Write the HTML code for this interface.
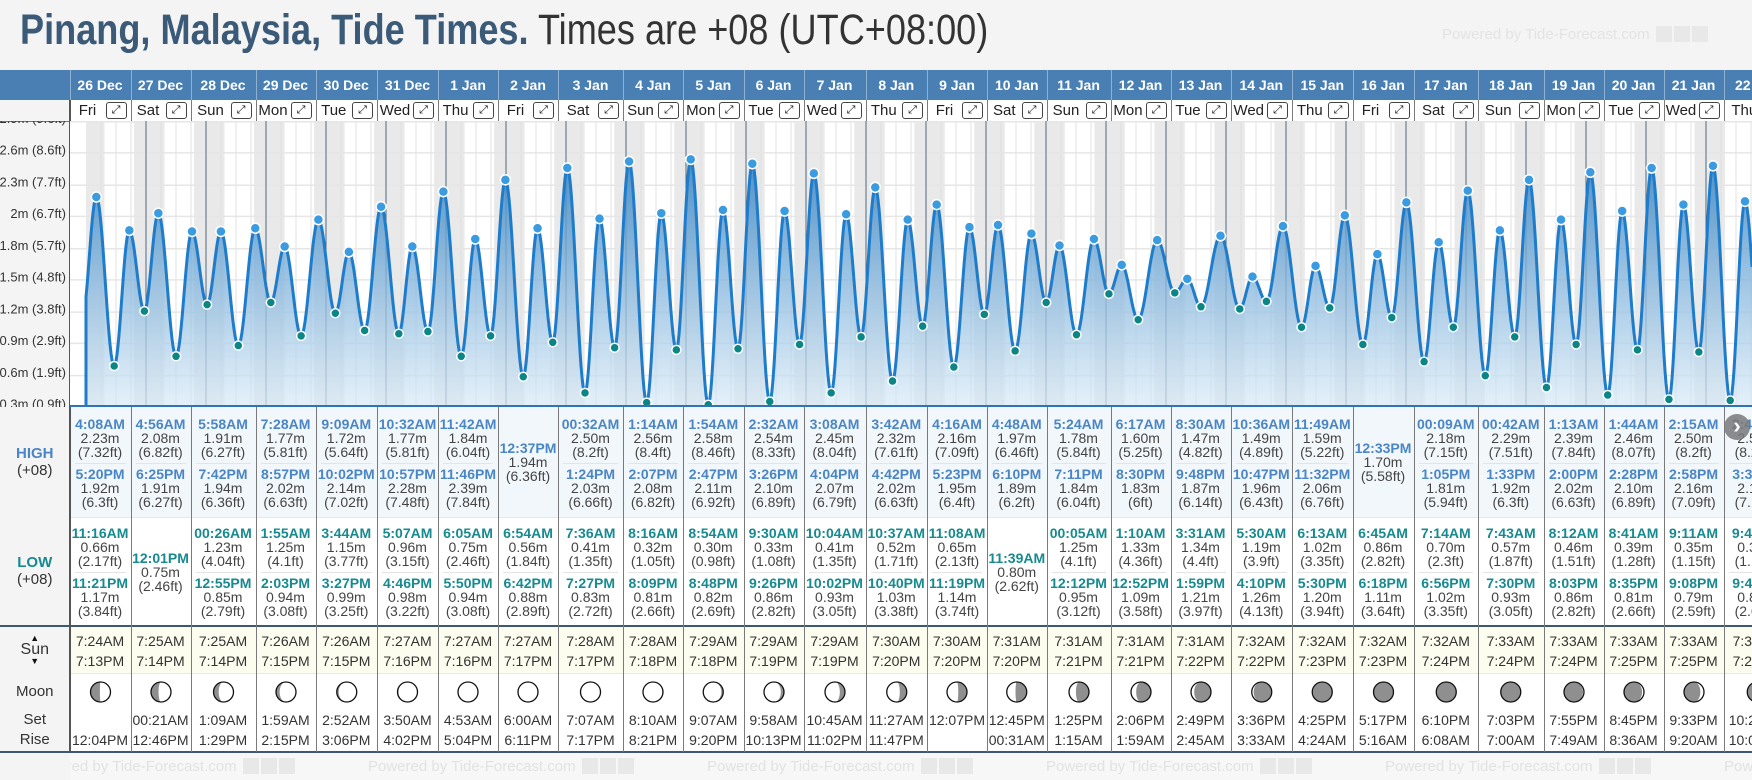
<!DOCTYPE html>
<html><head><meta charset="utf-8"><title>Pinang Tide Times</title>
<style>
html,body{margin:0;padding:0;}
body{width:1752px;height:780px;overflow:hidden;background:#f4f4f4;font-family:"Liberation Sans",Arial,sans-serif;color:#333;position:relative;}
.abs{position:absolute;}
#title{position:absolute;left:20px;top:6px;font-size:43px;white-space:nowrap;transform:scaleX(0.84);transform-origin:0 0;margin:0;font-weight:normal;}
#title b{color:#3a5a78;}
#title span{color:#333;}
.pw{position:absolute;font-size:15px;color:#e3e3e3;white-space:nowrap;}
.ico{display:inline-block;width:16px;height:16px;background:#e8e8e8;margin-left:2px;vertical-align:-3px;}
.t{position:absolute;text-align:center;white-space:nowrap;font-size:14px;line-height:14px;color:#444;}
.tb{font-weight:bold;}
</style></head>
<body>
<h1 id="title"><b>Pinang, Malaysia, Tide Times.</b> <span>Times are +08 (UTC+08:00)</span></h1>
<div class="pw" style="left:1442px;top:26px;">Powered by Tide-Forecast.com <span class="ico"></span><span class="ico"></span><span class="ico"></span></div>
<div id="root" class="abs" style="left:0;top:0;width:1752px;height:780px;"></div>
<svg id="chart" class="abs" style="left:0;top:121px;" width="1752" height="286"><g id="cg" transform="translate(0,-121)"></g></svg>
<script>
// ---------- DATA ----------
const dates=['26 Dec','27 Dec','28 Dec','29 Dec','30 Dec','31 Dec','1 Jan','2 Jan','3 Jan','4 Jan','5 Jan','6 Jan','7 Jan','8 Jan','9 Jan','10 Jan','11 Jan','12 Jan','13 Jan','14 Jan','15 Jan','16 Jan','17 Jan','18 Jan','19 Jan','20 Jan','21 Jan','22 Jan'];
const weekdays=['Fri','Sat','Sun','Mon','Tue','Wed','Thu','Fri','Sat','Sun','Mon','Tue','Wed','Thu','Fri','Sat','Sun','Mon','Tue','Wed','Thu','Fri','Sat','Sun','Mon','Tue','Wed','Thu'];
const extDay=[-1,0,0,0,0,1,1,1,2,2,2,2,3,3,3,3,4,4,4,4,5,5,5,5,6,6,6,6,7,7,7,8,8,8,8,9,9,9,9,10,10,10,10,11,11,11,11,12,12,12,12,13,13,13,13,14,14,14,14,15,15,15,16,16,16,16,17,17,17,17,18,18,18,18,19,19,19,19,20,20,20,20,21,21,21,22,22,22,22,23,23,23,23,24,24,24,24,25,25,25,25,26,26,26,26,27,27,27,27];
const extTime=['10:30PM','4:08AM','11:16AM','5:20PM','11:21PM','4:56AM','12:01PM','6:25PM','00:26AM','5:58AM','12:55PM','7:42PM','1:55AM','7:28AM','2:03PM','8:57PM','3:44AM','9:09AM','3:27PM','10:02PM','5:07AM','10:32AM','4:46PM','10:57PM','6:05AM','11:42AM','5:50PM','11:46PM','6:54AM','12:37PM','6:42PM','00:32AM','7:36AM','1:24PM','7:27PM','1:14AM','8:16AM','2:07PM','8:09PM','1:54AM','8:54AM','2:47PM','8:48PM','2:32AM','9:30AM','3:26PM','9:26PM','3:08AM','10:04AM','4:04PM','10:02PM','3:42AM','10:37AM','4:42PM','10:40PM','4:16AM','11:08AM','5:23PM','11:19PM','4:48AM','11:39AM','6:10PM','00:05AM','5:24AM','12:12PM','7:11PM','1:10AM','6:17AM','12:52PM','8:30PM','3:31AM','8:30AM','1:59PM','9:48PM','5:30AM','10:36AM','4:10PM','10:47PM','6:13AM','11:49AM','5:30PM','11:32PM','6:45AM','12:33PM','6:18PM','00:09AM','7:14AM','1:05PM','6:56PM','00:42AM','7:43AM','1:33PM','7:30PM','1:13AM','8:12AM','2:00PM','8:03PM','1:44AM','8:41AM','2:28PM','8:35PM','2:15AM','9:11AM','2:58PM','9:08PM','2:47AM','9:41AM','3:36PM','9:41PM'];
const extHeight=[1.12,2.23,0.66,1.92,1.17,2.08,0.75,1.91,1.23,1.91,0.85,1.94,1.25,1.77,0.94,2.02,1.15,1.72,0.99,2.14,0.96,1.77,0.98,2.28,0.75,1.84,0.94,2.39,0.56,1.94,0.88,2.50,0.41,2.03,0.83,2.56,0.32,2.08,0.81,2.58,0.30,2.11,0.82,2.54,0.33,2.10,0.86,2.45,0.41,2.07,0.93,2.32,0.52,2.02,1.03,2.16,0.65,1.95,1.14,1.97,0.80,1.89,1.25,1.78,0.95,1.84,1.33,1.60,1.09,1.83,1.34,1.47,1.21,1.87,1.19,1.49,1.26,1.96,1.02,1.59,1.20,2.06,0.86,1.70,1.11,2.18,0.70,1.81,1.02,2.29,0.57,1.92,0.93,2.39,0.46,2.02,0.86,2.46,0.39,2.10,0.81,2.50,0.35,2.16,0.79,2.52,0.34,2.19,0.80];
const extType=['L','H','L','H','L','H','L','H','L','H','L','H','L','H','L','H','L','H','L','H','L','H','L','H','L','H','L','H','L','H','L','H','L','H','L','H','L','H','L','H','L','H','L','H','L','H','L','H','L','H','L','H','L','H','L','H','L','H','L','H','L','H','L','H','L','H','L','H','L','H','L','H','L','H','L','H','L','H','L','H','L','H','L','H','L','H','L','H','L','H','L','H','L','H','L','H','L','H','L','H','L','H','L','H','L','H','L','H','L'];
const sunrise=['7:24AM','7:25AM','7:25AM','7:26AM','7:26AM','7:27AM','7:27AM','7:27AM','7:28AM','7:28AM','7:29AM','7:29AM','7:29AM','7:30AM','7:30AM','7:31AM','7:31AM','7:31AM','7:31AM','7:32AM','7:32AM','7:32AM','7:32AM','7:33AM','7:33AM','7:33AM','7:33AM','7:34AM'];
const sunset=['7:13PM','7:14PM','7:14PM','7:15PM','7:15PM','7:16PM','7:16PM','7:17PM','7:17PM','7:18PM','7:18PM','7:19PM','7:19PM','7:20PM','7:20PM','7:20PM','7:21PM','7:21PM','7:22PM','7:22PM','7:23PM','7:23PM','7:24PM','7:24PM','7:24PM','7:25PM','7:25PM','7:26PM'];
const moonset=['','00:21AM','1:09AM','1:59AM','2:52AM','3:50AM','4:53AM','6:00AM','7:07AM','8:10AM','9:07AM','9:58AM','10:45AM','11:27AM','12:07PM','12:45PM','1:25PM','2:06PM','2:49PM','3:36PM','4:25PM','5:17PM','6:10PM','7:03PM','7:55PM','8:45PM','9:33PM','10:20PM'];
const moonrise=['12:04PM','12:46PM','1:29PM','2:15PM','3:06PM','4:02PM','5:04PM','6:11PM','7:17PM','8:21PM','9:20PM','10:13PM','11:02PM','11:47PM','','00:31AM','1:15AM','1:59AM','2:45AM','3:33AM','4:24AM','5:16AM','6:08AM','7:00AM','7:49AM','8:36AM','9:20AM','10:02AM'];
const moonPhase=[0.26,0.29,0.33,0.36,0.40,0.43,0.46,0.50,0.53,0.56,0.60,0.63,0.67,0.70,0.73,0.77,0.80,0.83,0.87,0.90,0.94,0.97,0.995,0.04,0.07,0.10,0.14,0.17];
const gridVals=[2.93,2.64,2.34,2.05,1.75,1.46,1.16,0.87,0.57,0.28];
const gridLabels=['2.9m (9.6ft)','2.6m (8.6ft)','2.3m (7.7ft)','2m (6.7ft)','1.8m (5.7ft)','1.5m (4.8ft)','1.2m (3.8ft)','0.9m (2.9ft)','0.6m (1.9ft)','0.3m (0.9ft)'];

// ---------- LAYOUT ----------
const cols=[69.5,130.5,190.5,255.5,315.5,377,438,498,558,623,683,743.5,803.5,865.5,927,987,1046.5,1110.5,1170.5,1230.5,1292,1352.5,1413.5,1478,1543.5,1603.5,1663.5,1723.5,1790];
const X0=86,PXH=2.5;
function hrs(s){const m=s.match(/(\d+):(\d+)(AM|PM)/);let h=(+m[1])%12;if(m[3]==='PM')h+=12;return h+(+m[2])/60;}
function xT(day,s){return X0+(day*24+hrs(s))*PXH;}
function yH(h){return 437-107.6*h;}
function ft(h){let v=(h*3.28084).toFixed(2);v=v.replace(/0+$/,'').replace(/\.$/,'');return v;}

const root=document.getElementById('root');
function mk(tag,parent,css,txt){const e=document.createElement(tag);if(css)e.style.cssText=css;if(txt!==undefined)e.textContent=txt;parent.appendChild(e);return e;}
function box(l,t,w,h,bg){return 'position:absolute;left:'+l+'px;top:'+t+'px;width:'+w+'px;height:'+h+'px;'+(bg?'background:'+bg+';':'');}

let hb=mk('div',root,box(0,70,1752,30,'#4a7fb3'));


let dr=mk('div',root,box(69.5,100,1683,21,'#fff'));


let lc=mk('div',root,box(0,100,69.5,652,'#f4f4f4'));


let hs=mk('div',root,box(69.5,407,1683,110,'#f2f7fc'));


let ls=mk('div',root,box(69.5,517,1683,109,'#fff'));


let ss=mk('div',root,box(69.5,627,1683,46,'#fcfcef'));


let ms=mk('div',root,box(69.5,673,1683,79,'#fff'));


let fs=mk('div',root,box(69.5,753,1683,27,'#f7f7f7')+'overflow:hidden;');


for(let i=0;i<6;i++){
  let p=mk('div',fs,'position:absolute;top:5px;left:'+(29+339*i-69.5)+'px;font-size:15px;color:#e2e2e2;white-space:nowrap;','Powered by Tide-Forecast.com ');
  
  
  for(let k=0;k<3;k++){let ic=mk('span',p);ic.className='ico';}
}
let l1=mk('div',root,box(69.5,517,1683,1,'#e6e6e6'));


let l2=mk('div',root,box(0,625,1752,2,'#3c5873'));


let l3=mk('div',root,box(69.5,673,1683,1,'#e8e8e8'));


let l4=mk('div',root,box(0,751,1752,2,'#3c5873'));


let l5=mk('div',root,box(0,121,1752,1,'#777'));



function lab(txt,y,css){let e=mk('div',root,'position:absolute;left:0;width:69.5px;text-align:center;top:'+(y-9)+'px;line-height:18px;font-size:15px;color:#333;'+(css||''),txt);return e;}
let e;
e=lab('HIGH',454,'font-weight:bold;color:#4a86c5;');


e=lab('(+08)',471);


e=lab('LOW',563,'font-weight:bold;color:#168a8f;');


e=lab('(+08)',580);


e=lab('▲',638,'font-size:9px;color:#111;');


e=lab('Sun',650,'font-size:16px;');


e=lab('▼',661,'font-size:9px;color:#111;');


e=lab('Moon',692);


e=lab('Set',720);


e=lab('Rise',740);



const dayHigh=dates.map(()=>[]),dayLow=dates.map(()=>[]);
for(let i=0;i<extDay.length;i++){if(extDay[i]<0)continue;(extType[i]==='H'?dayHigh:dayLow)[extDay[i]].push(i);}

function txt(parent,l,w,cy,s,cls,color){let t=mk('div',parent,'left:'+l+'px;width:'+w+'px;top:'+(cy-7)+'px;'+(color?'color:'+color+';':''),s);t.className='t'+(cls?' '+cls:'');return t;}

for(let d=0;d<dates.length;d++){
  const L=cols[d],W=cols[d+1]-cols[d];
  let sep=mk('div',root,box(L,100,1,652,'#7a7a7a'));
  
  
  let hsep=mk('div',root,box(L,70,1,30,'#8fb0d0'));
  
  
  let dl=mk('div',root,'position:absolute;left:'+L+'px;width:'+W+'px;top:77px;text-align:center;color:#fff;font-weight:bold;font-size:14px;line-height:16px;white-space:nowrap;',dates[d]);
  
  
  let wd=mk('div',root,'position:absolute;left:'+(L+1)+'px;width:'+(W-27)+'px;top:102px;text-align:center;color:#222;font-size:15px;line-height:17px;white-space:nowrap;',weekdays[d]);
  
  
  let ex=mk('div',root,'position:absolute;left:'+(L+W-25)+'px;top:102px;width:19px;height:15px;border:1px solid #444;border-radius:3px;font-size:11px;line-height:15px;text-align:center;color:#111;background:#fff;','⤢');
  
  
  const hc=mk('div',root,box(L,407,W,110)+'overflow:hidden;');
  
  
  const hi=dayHigh[d];
  const hCent=hi.length===1?[55]:[31,81];
  hi.forEach((ix,k)=>{const c=hCent[k];
    let a=txt(hc,0,W,c-14,extTime[ix],'tb','#4a86c5');
    
    
    let b=txt(hc,0,W,c,extHeight[ix].toFixed(2)+'m');
    
    
    let f=txt(hc,0,W,c+14,'('+ft(extHeight[ix])+'ft)');
    
    
  });
  if(hi.length===2){let dv=mk('div',hc,box(5,56,W-10,1,'#e4e4e4'));}
  const lcl=mk('div',root,box(L,518,W,107)+'overflow:hidden;');
  
  
  const lo=dayLow[d];
  const lCent=lo.length===1?[54]:[29,79];
  lo.forEach((ix,k)=>{const c=lCent[k];
    let a=txt(lcl,0,W,c-14,extTime[ix],'tb','#168a8f');
    
    
    let b=txt(lcl,0,W,c,extHeight[ix].toFixed(2)+'m');
    
    
    let f=txt(lcl,0,W,c+14,'('+ft(extHeight[ix])+'ft)');
    
    
  });
  if(lo.length===2){let dv=mk('div',lcl,box(5,54,W-10,1,'#e4e4e4'));}
  let sr=txt(root,L,W,641,sunrise[d],'','#333');
  
  
  let st=txt(root,L,W,661,sunset[d],'','#333');
  
  
  let mset=txt(root,L,W,720,moonset[d],'','#333');
  
  
  let mrise=txt(root,L,W,740,moonrise[d],'','#333');
  
  
  const p=moonPhase[d],r=10,cx=W/2,cy=20;
  const rx=Math.abs(Math.cos(2*Math.PI*p))*r;
  let path;
  if(p<0.5){path='M'+cx+','+(cy-r)+' A'+r+','+r+' 0 0 1 '+cx+','+(cy+r)+' A'+rx+','+r+' 0 0 '+(p<0.25?0:1)+' '+cx+','+(cy-r)+'Z';}
  else{path='M'+cx+','+(cy-r)+' A'+r+','+r+' 0 0 0 '+cx+','+(cy+r)+' A'+rx+','+r+' 0 0 '+(p<0.75?0:1)+' '+cx+','+(cy-r)+'Z';}
  const mw=mk('div',root,box(L,672,W,40));
  
  
  mw.innerHTML='<svg width="'+W+'" height="40"><circle cx="'+cx+'" cy="'+cy+'" r="'+r+'" fill="#8f8f8f"/><path d="'+path+'" fill="#fff"/><circle cx="'+cx+'" cy="'+cy+'" r="'+r+'" fill="none" stroke="#111" stroke-width="1.3"/></svg>';
}
let axl=mk('div',root,box(69,100,1.5,652,'#555'));



// ---------- CHART ----------
const cg=document.getElementById('cg');
function add(m){cg.insertAdjacentHTML('beforeend',m);return cg.lastElementChild;}
let bg=add('<rect x="70" y="121" width="1682" height="285" fill="#fff"/>');


for(let d=-1;d<dates.length;d++){
  const xs=d<0?X0:xT(d,sunset[d]);
  const xe=d+1<dates.length?xT(d+1,sunrise[d+1]):1760;
  let nb=add('<rect x="'+xs+'" y="121" width="'+(xe-xs)+'" height="285" fill="#e9e9e9"/>');
  
  
}
for(let t=0;t<=28*24;t+=6){const x=X0+t*PXH;if(t%24===0)continue;
  let vg=add('<line x1="'+x+'" x2="'+x+'" y1="121" y2="406" stroke="#e0e0e0" stroke-width="1"/>');
  
  
}
gridVals.forEach((v,i)=>{const y=yH(v);
  let g=add('<line x1="70" x2="1752" y1="'+y+'" y2="'+y+'" stroke="#e6e6e6" stroke-width="1.5"/>');
  
  
  let tl=add('<text x="66" y="'+(y+1.5)+'" text-anchor="end" font-size="13" fill="#333" font-family="Liberation Sans, Arial, sans-serif">'+gridLabels[i]+'</text>');
  
  
});
const ext=extDay.map((d,i)=>({x:xT(d,extTime[i]),h:extHeight[i]}));
function hAt(x){for(let i=0;i<ext.length-1;i++){if(x>=ext[i].x&&x<=ext[i+1].x){const t=(x-ext[i].x)/(ext[i+1].x-ext[i].x);return ext[i].h+(ext[i+1].h-ext[i].h)*(1-Math.cos(Math.PI*t))/2;}}return ext[ext.length-1].h;}
for(let d=1;d<dates.length;d++){const x=X0+d*24*PXH;
  let ml=add('<line x1="'+x+'" x2="'+x+'" y1="121" y2="406" stroke="#51697f" stroke-width="1"/>');
  
  
}
let pts=[];for(let x=X0;x<=1752;x+=1){pts.push(x.toFixed(1)+','+yH(hAt(x)).toFixed(2));}
add('<defs><linearGradient id="fg" gradientUnits="userSpaceOnUse" x1="0" y1="150" x2="0" y2="406"><stop offset="0" stop-color="#2f7fc1" stop-opacity="0.88"/><stop offset="1" stop-color="#d8eaf7" stop-opacity="0.7"/></linearGradient></defs>');
let fill=add('<path d="M'+X0+',406 L'+pts.join(' L')+' L1752,406Z" fill="url(#fg)"/>');


let line=add('<path d="M'+X0+',406 L'+pts.join(' L')+'" fill="none" stroke="#1e7ccb" stroke-width="3" stroke-linejoin="round"/>');


ext.forEach((p,i)=>{if(extDay[i]<0)return;
  const hi=extType[i]==='H';
  let c=add('<circle cx="'+p.x+'" cy="'+yH(p.h)+'" r="'+(hi?5:4.5)+'" fill="'+(hi?'#3a9be0':'#0b8585')+'" stroke="#fff" stroke-width="1.5"/>');
  
  
});
let bl=add('<line x1="70" x2="1752" y1="406" y2="406" stroke="#2f74b5" stroke-width="2"/>');



let nav=mk('div',root,'position:absolute;left:1724px;top:414px;width:26px;height:26px;border-radius:13px;background:rgba(120,120,120,0.85);color:#fff;font-size:22px;line-height:24px;text-align:center;font-weight:bold;z-index:5;','›');


</script>
</body></html>
